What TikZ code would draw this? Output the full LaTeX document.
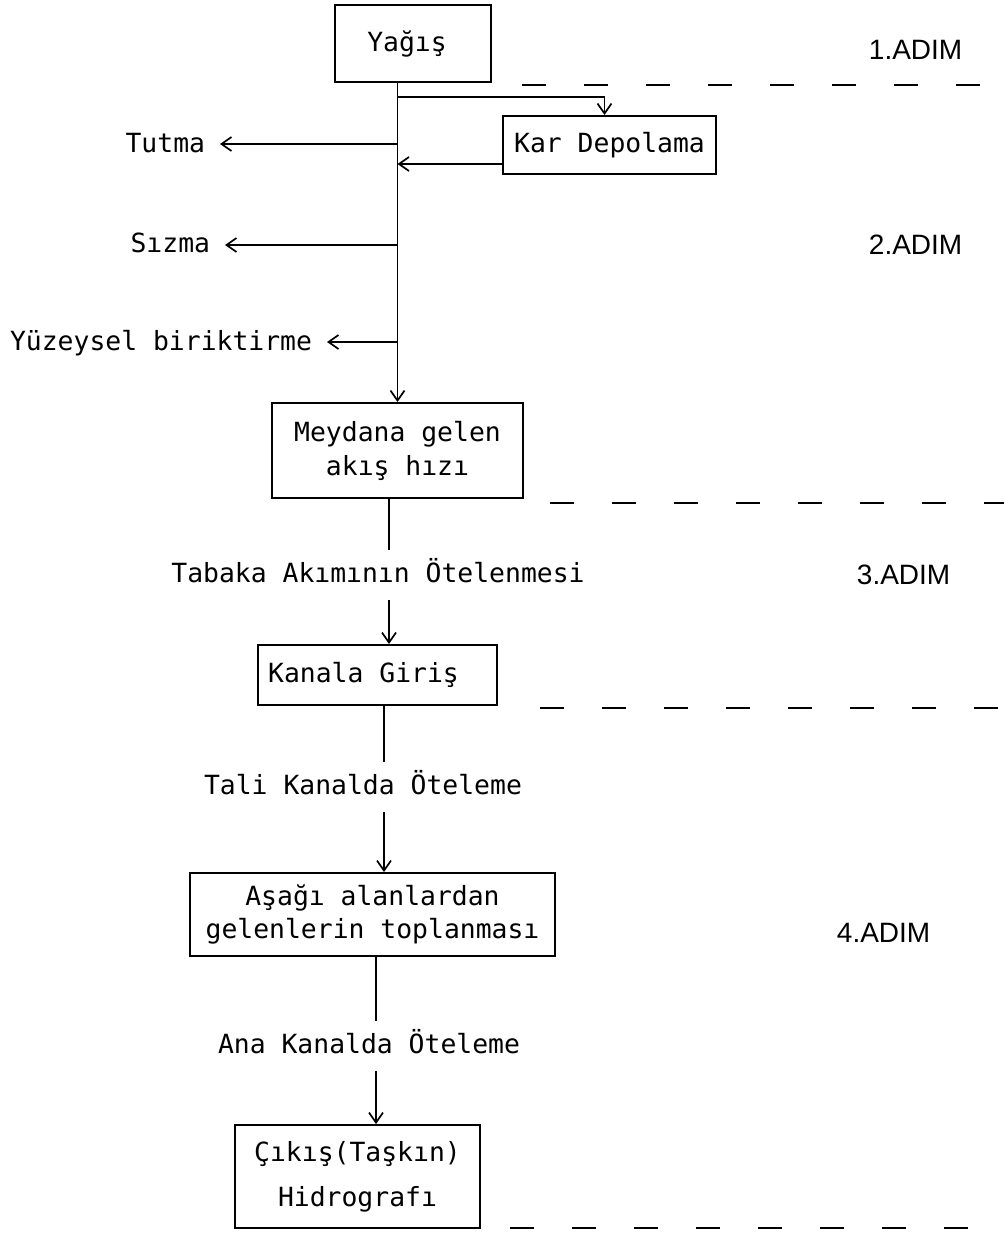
\documentclass[tikz,border=0pt]{standalone}
\usepackage{fontspec}
\setmonofont{DejaVu Sans Mono}
\newfontfamily\adimfont{Liberation Sans}
\usetikzlibrary{arrows.meta}
\begin{document}
\begin{tikzpicture}[x=1pt,y=-1pt,
  line width=1.9pt,
  every node/.style={font=\ttfamily\fontsize{26.4}{34}\selectfont},
  box/.style={draw, line width=1.9pt, inner sep=0pt},
  lbl/.style={inner xsep=0pt, inner ysep=12pt, text height=19pt, text depth=5pt},
  side/.style={anchor=east, inner xsep=14pt, inner ysep=0pt, text height=19pt, text depth=5pt},
  flow/.style={-{Straight Barb[length=10pt,width=14pt,line width=1.7pt]}},
  stage/.style={anchor=west, inner sep=0pt, font=\adimfont\fontsize{28}{32}\selectfont},
  sep/.style={dash pattern=on 24pt off 38pt, line width=1.6pt}]

\fill[white] (0,0) rectangle (1004,1233);
\useasboundingbox (0,0) rectangle (1004,1233);

% boxes
\node[box, minimum width=156pt, minimum height=77pt] (yagis) at (413,43.5) {Yağış\kern12pt\relax};
\node[box, minimum width=213pt, minimum height=58pt] (kar) at (609.5,145) {Kar Depolama};
\node[box, minimum width=251pt, minimum height=95pt, align=center] (meyd) at (397.5,450.5) {Meydana gelen\\akış hızı};
\node[box, minimum width=239pt, minimum height=60pt] (kanala) at (377.5,675) {Kanala Giriş\kern28pt\relax};
\node[box, minimum width=365pt, minimum height=83pt, align=center,
      font=\ttfamily\fontsize{26.4}{33}\selectfont] (asagi) at (372.5,914.5) {Aşağı alanlardan\\gelenlerin toplanması};
\node[box, minimum width=245pt, minimum height=103pt, align=center,
      font=\ttfamily\fontsize{26.4}{45}\selectfont] (cikis) at (357.5,1176.5) {Çıkış(Taşkın)\\Hidrografı};

% side labels
\node[side] (tutma) at (220,146) {Tutma};
\node[side] (sizma) at (225,246) {Sızma};
\node[side] (yuzey) at (327,343) {Yüzeysel biriktirme};

% in-line labels
\node[lbl] (tab) at (378,575) {Tabaka Akımının Ötelenmesi};
\node[lbl] (tali) at (363,787) {Tali Kanalda Öteleme};
\node[lbl] (ana) at (369,1046) {Ana Kanalda Öteleme};

% stage labels
\node[stage] (a1) at (868,50) {1.ADIM};
\node[stage] (a2) at (868,245) {2.ADIM};
\node[stage] (a3) at (856,575) {3.ADIM};
\node[stage] (a4) at (836,933) {4.ADIM};

% spine coordinates
\coordinate (b1) at (397.5,97);
\coordinate (t1) at (397.5,144);
\coordinate (k1) at (397.5,164);
\coordinate (s1) at (397.5,245);
\coordinate (y1) at (397.5,342);
\coordinate (sp2) at (389,0);
\coordinate (sp3) at (384,0);
\coordinate (sp4) at (376,0);

% connectors
\draw[flow] (yagis.south -| meyd.north) -- (meyd.north);
\draw[flow] (b1) -| ([xshift=-5pt]kar.north);
\draw[flow] (kar.west |- k1) -- (k1);
\draw[flow] (t1) -- (tutma.east |- t1);
\draw[flow] (s1) -- (sizma.east |- s1);
\draw[flow] (y1) -- (yuzey.east |- y1);

\draw (meyd.south -| sp2) -- (tab.north -| sp2);
\draw[flow] (tab.south -| sp2) -- (kanala.north -| sp2);
\draw (kanala.south -| sp3) -- (tali.north -| sp3);
\draw[flow] (tali.south -| sp3) -- (asagi.north -| sp3);
\draw (asagi.south -| sp4) -- (ana.north -| sp4);
\draw[flow] (ana.south -| sp4) -- (cikis.north -| sp4);

% stage separators
\draw[sep] (522,85) -- (1004,85);
\draw[sep] (550,503) -- (1004,503);
\draw[sep] (540,708) -- (1004,708);
\draw[sep] (510,1228) -- (1004,1228);
\end{tikzpicture}
\end{document}
